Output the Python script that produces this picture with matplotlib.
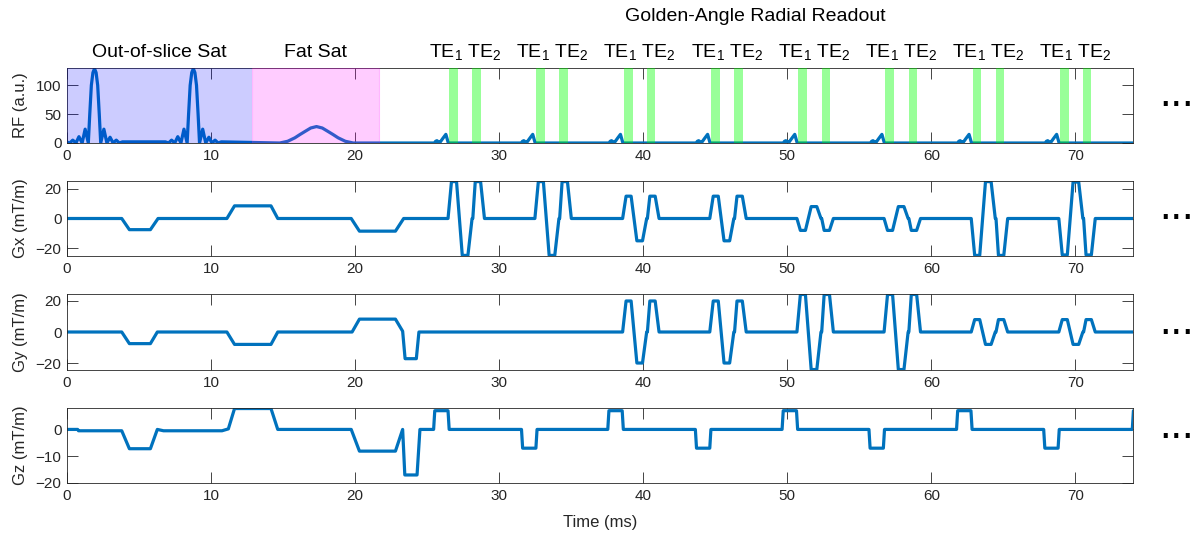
import numpy as np
import matplotlib
matplotlib.use("Agg")
import matplotlib.pyplot as plt
from matplotlib.transforms import blended_transform_factory

plt.rcParams['font.family'] = ['Liberation Sans', 'DejaVu Sans']
plt.rcParams['mathtext.default'] = 'regular'

# ---------------- data (ms / a.u. / mT/m) ----------------
x_ticks = [0, 10, 20, 30, 40, 50, 60, 70]
x_max = 74

# saturation band regions
sat_region = [0.0, 12.86]
fat_region = [12.86, 21.64]

# out-of-slice saturation sinc pulses (magnitude)
sat_centers = [1.91, 8.77]
sat_offsets = [-1.94, -1.72, -1.51, -1.29, -1.08, -0.86, -0.65, -0.43, -0.33, -0.22, -0.11, 0.0,
               0.11, 0.22, 0.33, 0.43, 0.65, 0.86, 1.08, 1.29, 1.51, 1.72, 1.94]
sat_amps = [2, 0, 5, 0, 11, 0, 24, 0, 50, 100, 122, 129,
            122, 100, 50, 0, 24, 0, 10, 0, 5, 0, 2]

# fat saturation pulse
fat_center = 17.32
fat_offsets = [-2.55, -2.0, -1.5, -1.16, -0.8, -0.4, 0.0, 0.4, 0.8, 1.16, 1.5, 2.0, 2.55]
fat_amps = [0, 3, 9, 14.5, 20, 26, 28.5, 26, 20, 14.5, 9, 3, 0]

# readout echoes (TE1 / TE2 window starts)
te1_starts = [26.54, 32.57, 38.66, 44.71, 50.76, 56.81, 62.86, 68.94]
te2_starts = [28.12, 34.18, 40.23, 46.30, 52.38, 58.43, 64.46, 70.50]

# excitation pulse before each readout (offsets relative to TE1 start)
exc_offsets = [-1.04, -0.95, -0.86, -0.75, -0.65, -0.45, -0.24, -0.07]
exc_amps = [0, 3, 4, 2, 1, 8, 15, 0]

# preparation gradients
gx_pre_t = [0, 3.8, 4.33, 5.79, 6.32, 11.1, 11.63, 14.16, 14.63, 19.73, 20.3, 22.8, 23.37]
gx_pre_v = [0, 0, -7.5, -7.5, 0, 0, 8.5, 8.5, 0, 0, -8.5, -8.5, 0]
gy_pre_t = [0, 3.8, 4.33, 5.79, 6.27, 11.1, 11.63, 14.16, 14.63, 19.79, 20.3, 22.8, 23.3, 23.47, 24.25, 24.43]
gy_pre_v = [0, 0, -7.5, -7.5, 0, 0, -8, -8, 0, 0, 8.3, 8.3, 0.5, -17.2, -17.2, 0]
gz_pre_t = [0, 0.74, 0.8, 3.8, 4.33, 5.79, 6.27, 6.7, 10.76, 11.2, 11.63, 14.16, 14.63,
            19.73, 20.3, 22.8, 23.3, 23.45, 24.3, 24.5]
gz_pre_v = [0, 0, -0.5, -0.5, -7.2, -7.2, 0, -0.5, -0.5, 0.2, 7.8, 7.8, 0,
            0, -8.1, -8.1, 0, -17, -17, 0]

# bipolar readout lobe template (offsets relative to TE1 start, normalised)
ro_offsets = [-0.09, 0.15, 0.50, 0.90, 1.29, 1.58, 1.63, 1.80, 2.17, 2.44]
ro_shape = [0, 1, 1, -1, -1, 0, 0, 1, 1, 0]
gx_amps = [24.8, 24.8, 15, 15, -8, -8, -24.8, -24.5]
gy_amps = [0, 0, 20, 20, 24.2, 24.2, 8, 8]

# slice-select lobes
gz_lobe_starts = [25.45, 31.55, 37.54, 43.62, 49.64, 55.67, 61.75, 67.8, 73.95]
gz_lobe_amps = [7, -7, 7, -7, 7, -7, 7, -7, 7]
gz_lobe_offsets = [0.0, 0.08, 1.0, 1.08]
gz_lobe_shape = [0, 1, 1, 0]

# ---------------- build waveforms ----------------
def rf_wave():
    t, v = [], []
    for c in sat_centers:
        t += [c + o for o in sat_offsets]
        v += list(sat_amps)
    t += [fat_center + o for o in fat_offsets]
    v += list(fat_amps)
    for s in te1_starts:
        t += [s + o for o in exc_offsets]
        v += list(exc_amps)
    t.append(80); v.append(0)
    return np.array(t), np.array(v)

def grad_wave(pre_t, pre_v, starts, amps, offs, shape):
    t, v = list(pre_t), list(pre_v)
    for s, a in zip(starts, amps):
        t += [s + o for o in offs]
        v += [a * k for k in shape]
    t.append(80); v.append(0)
    return np.array(t), np.array(v)

rf_t, rf_v = rf_wave()
gx_t, gx_v = grad_wave(gx_pre_t, gx_pre_v, te1_starts, gx_amps, ro_offsets, ro_shape)
gy_t, gy_v = grad_wave(gy_pre_t, gy_pre_v, te1_starts, gy_amps, ro_offsets, ro_shape)
gz_t, gz_v = grad_wave(gz_pre_t, gz_pre_v, gz_lobe_starts, gz_lobe_amps, gz_lobe_offsets, gz_lobe_shape)

# ---------------- figure ----------------
W, H = 1196, 535
fig = plt.figure(figsize=(W / 100, H / 100), dpi=100)
left = 67 / W
width = (1133 - 67) / W

def make_ax(top_px, bot_px):
    return fig.add_axes([left, 1 - bot_px / H, width, (bot_px - top_px) / H])

ax_rf = make_ax(68, 143)
ax_gx = make_ax(181, 256)
ax_gy = make_ax(294, 370)
ax_gz = make_ax(408, 483)

line_col = '#0072BD'
axis_col = '#262626'
lw = 2.3

panels = [
    (ax_rf, rf_t, rf_v, (0, 130), [0, 50, 100], 'RF (a.u.)'),
    (ax_gx, gx_t, gx_v, (-25.2, 25.2), [-20, 0, 20], 'Gx (mT/m)'),
    (ax_gy, gy_t, gy_v, (-24.5, 24.5), [-20, 0, 20], 'Gy (mT/m)'),
    (ax_gz, gz_t, gz_v, (-20, 8), [-20, -10, 0], 'Gz (mT/m)'),
]
for ax, t, v, yl, yt, lab in panels:
    ax.plot(t, v, color=line_col, lw=lw, solid_joinstyle='round', zorder=2)
    ax.set_xlim(0, x_max)
    ax.set_ylim(*yl)
    ax.set_xticks(x_ticks)
    ax.set_yticks(yt)
    ax.tick_params(direction='in', length=7.7, width=0.6, colors=axis_col,
                   labelsize=11, top=True, right=True, pad=4)
    for sp in ax.spines.values():
        sp.set_color(axis_col)
        sp.set_linewidth(0.6)
    ax.set_ylabel(lab, fontsize=12, color=axis_col)
    ax.yaxis.set_label_coords(-0.037, 0.5)

ax_gz.set_xlabel('Time (ms)', fontsize=12, color=axis_col, labelpad=9)

# shaded regions on RF
ax_rf.axvspan(sat_region[0], sat_region[1], facecolor=(0, 0, 1), alpha=0.2, lw=0, zorder=3)
ax_rf.axvspan(fat_region[0], fat_region[1], facecolor=(1, 0, 1), edgecolor=(1, 0, 1), alpha=0.2, lw=0.8, zorder=3)
bar_w = 0.6
for s in te1_starts + te2_starts:
    ax_rf.axvspan(s, s + bar_w, facecolor=(0, 1, 0), alpha=0.4, lw=0, zorder=3)

# labels above RF
tr = blended_transform_factory(ax_rf.transData, ax_rf.transAxes)
ax_rf.text(sum(sat_region) / 2, 1.147, 'Out-of-slice Sat', transform=tr, ha='center', va='baseline', fontsize=14)
ax_rf.text(sum(fat_region) / 2, 1.147, 'Fat Sat', transform=tr, ha='center', va='baseline', fontsize=14)
for a, b in zip(te1_starts, te2_starts):
    ax_rf.text((a + b) / 2 + bar_w / 2, 1.147, 'TE$_1$ TE$_2$', transform=tr,
               ha='center', va='baseline', fontsize=14)
ax_rf.text(47.76, 1.63, 'Golden-Angle Radial Readout', transform=tr, ha='center', va='baseline', fontsize=14)

# continuation dots
for ypx in [104, 217, 332, 436]:
    fig.text(1159 / W, 1 - (ypx + 2) / H, '...', ha='left', va='baseline', fontsize=30, color='black')

fig.savefig('out.png', dpi=100)
